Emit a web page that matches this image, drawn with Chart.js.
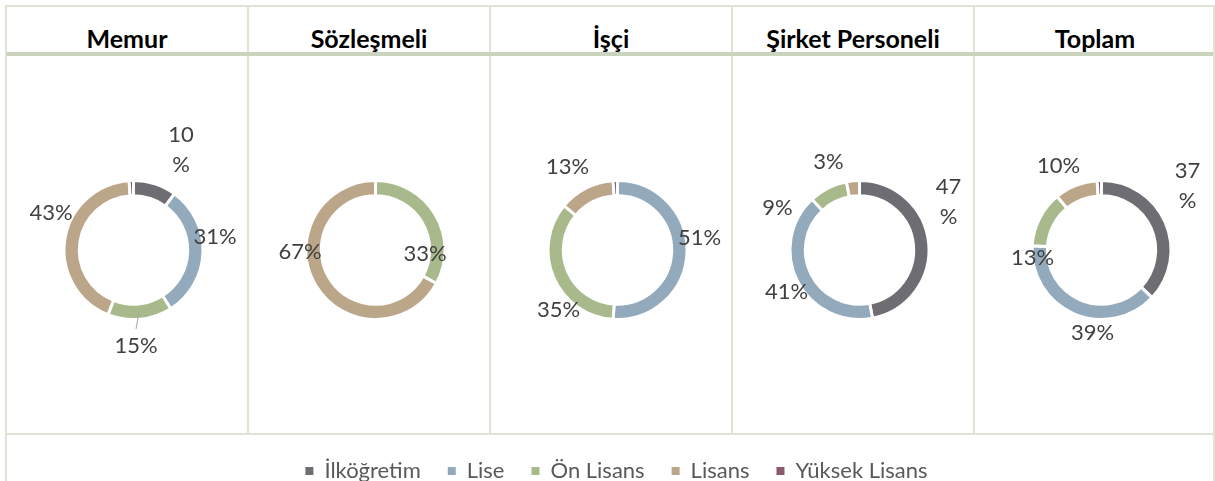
<!DOCTYPE html>
<html>
<head>
<meta charset="utf-8">
<script src="https://cdn.jsdelivr.net/npm/chart.js@4/dist/chart.umd.min.js"></script>
<style>
body { margin: 0; background: #fff; width: 1215px; height: 481px; overflow: hidden; position: relative; font-family: Lato, sans-serif; }
.ln { position: absolute; background: #dde4d3; }
.hd { position: absolute; top: 22px; height: 32px; line-height: 32px; text-align: center; font-weight: bold; font-size: 25px; color: #000; }
canvas { position: absolute; }
</style>
</head>
<body>
<script>
// data
var categories = ["İlköğretim", "Lise", "Ön Lisans", "Lisans", "Yüksek Lisans"];
var groups = ["Memur", "Sözleşmeli", "İşçi", "Şirket Personeli", "Toplam"];
var memur = [10, 31, 15, 43, 1];
var sozlesmeli = [0, 0, 33, 67, 0];
var isci = [0, 51, 35, 13, 1];
var sirket = [47, 41, 9, 3, 0];
var toplam = [37, 39, 13, 10, 1];
var series = [memur, sozlesmeli, isci, sirket, toplam];

var colors = ["#6e6d73", "#92aabb", "#a8b98b", "#bba68a", "#8c5a6d"];

// where excel put each label, relative to the ring centre
var labelLayout = [
    [{i: 0, dx: 47.5, dy: -100, wrap: true}, {i: 1, dx: 81.5, dy: -13}, {i: 2, dx: 2.5, dy: 96, leader: [5.5, 62, 2.5, 79]}, {i: 3, dx: -82.5, dy: -37}],
    [{i: 2, dx: 49.5, dy: 4}, {i: 3, dx: -75.5, dy: 2}],
    [{i: 1, dx: 82, dy: -12.5}, {i: 2, dx: -59, dy: 59.5}, {i: 3, dx: -50, dy: -83.5}],
    [{i: 0, dx: 89, dy: -48, wrap: true}, {i: 1, dx: -73, dy: 42}, {i: 2, dx: -82, dy: -42}, {i: 3, dx: -31, dy: -88}],
    [{i: 0, dx: 86, dy: -64.5, wrap: true}, {i: 1, dx: -9, dy: 82.5}, {i: 2, dx: -69, dy: 7.5}, {i: 3, dx: -43, dy: -84.5}]
];

var colLeft = [7, 249, 491, 733, 975];
var colWidth = 240;

function line(x, y, w, h, c) {
    var d = document.createElement("div");
    d.className = "ln";
    d.style.cssText = "left:" + x + "px;top:" + y + "px;width:" + w + "px;height:" + h + "px;" + (c ? "background:" + c : "");
    document.body.appendChild(d);
}

// table frame
line(5, 5, 1210, 2);
line(5, 5, 2, 476);
line(1213, 5, 2, 476);
[247, 489, 731, 973].forEach(function (x) { line(x, 7, 2, 426); });
line(7, 52, 1206, 4, "#cad3bb");
line(7, 433, 1206, 2);

function makeLabels(spec) {
    return {
        id: "pctLabels",
        afterDatasetsDraw: function (chart) {
            var ctx = chart.ctx;
            var arc = chart.getDatasetMeta(0).data[0];
            var cx = arc.x, cy = arc.y;
            var vals = chart.data.datasets[0].data;
            var total = vals.reduce(function (a, b) { return a + b; }, 0);
            ctx.save();
            ctx.font = "22px Lato, sans-serif";
            ctx.fillStyle = "#404040";
            ctx.textAlign = "center";
            ctx.textBaseline = "middle";
            spec.forEach(function (s) {
                var pct = Math.round(vals[s.i] / total * 100);
                if (s.leader) {
                    ctx.strokeStyle = "#a6a6a6";
                    ctx.lineWidth = 1;
                    ctx.beginPath();
                    ctx.moveTo(cx + s.leader[0], cy + s.leader[1]);
                    ctx.lineTo(cx + s.leader[2], cy + s.leader[3]);
                    ctx.stroke();
                }
                if (s.wrap) {
                    ctx.fillText(String(pct), cx + s.dx, cy + s.dy - 15);
                    ctx.fillText("%", cx + s.dx, cy + s.dy + 15);
                } else {
                    ctx.fillText(pct + "%", cx + s.dx, cy + s.dy);
                }
            });
            ctx.restore();
        }
    };
}

groups.forEach(function (g, k) {
    var hd = document.createElement("div");
    hd.className = "hd";
    hd.style.left = colLeft[k] + "px";
    hd.style.width = colWidth + "px";
    hd.textContent = g;
    document.body.appendChild(hd);

    var cv = document.createElement("canvas");
    cv.width = colWidth;
    cv.height = 377;
    cv.style.left = colLeft[k] + "px";
    cv.style.top = "56px";
    document.body.appendChild(cv);

    new Chart(cv, {
        type: "doughnut",
        data: {
            labels: categories,
            datasets: [{
                data: series[k],
                backgroundColor: colors,
                borderColor: "#ffffff",
                borderWidth: 3,
                hoverOffset: 0
            }]
        },
        options: {
            responsive: false,
            animation: false,
            events: [],
            radius: 69.5,
            cutout: "78%",
            layout: { padding: { left: 13, top: 11 } },
            plugins: {
                legend: { display: false },
                tooltip: { enabled: false }
            }
        },
        plugins: [makeLabels(labelLayout[k])]
    });
});

// legend row (a chart with no bars, only its legend)
var lg = document.createElement("canvas");
lg.width = 1206;
lg.height = 120;
lg.style.left = "7px";
lg.style.top = "433px";
document.body.appendChild(lg);

new Chart(lg, {
    type: "bar",
    data: {
        labels: [],
        datasets: categories.map(function (c, i) {
            return { label: c, data: [], backgroundColor: colors[i], borderWidth: 0 };
        })
    },
    options: {
        responsive: false,
        animation: false,
        events: [],
        layout: { padding: { left: 13 } },
        scales: { x: { display: false }, y: { display: false } },
        plugins: {
            tooltip: { enabled: false },
            legend: {
                display: true,
                position: "top",
                labels: {
                    boxWidth: 8,
                    boxHeight: 8,
                    padding: 27,
                    color: "#595959",
                    font: { family: "Lato, sans-serif", size: 22 }
                }
            }
        }
    }
});
</script>
</body>
</html>
